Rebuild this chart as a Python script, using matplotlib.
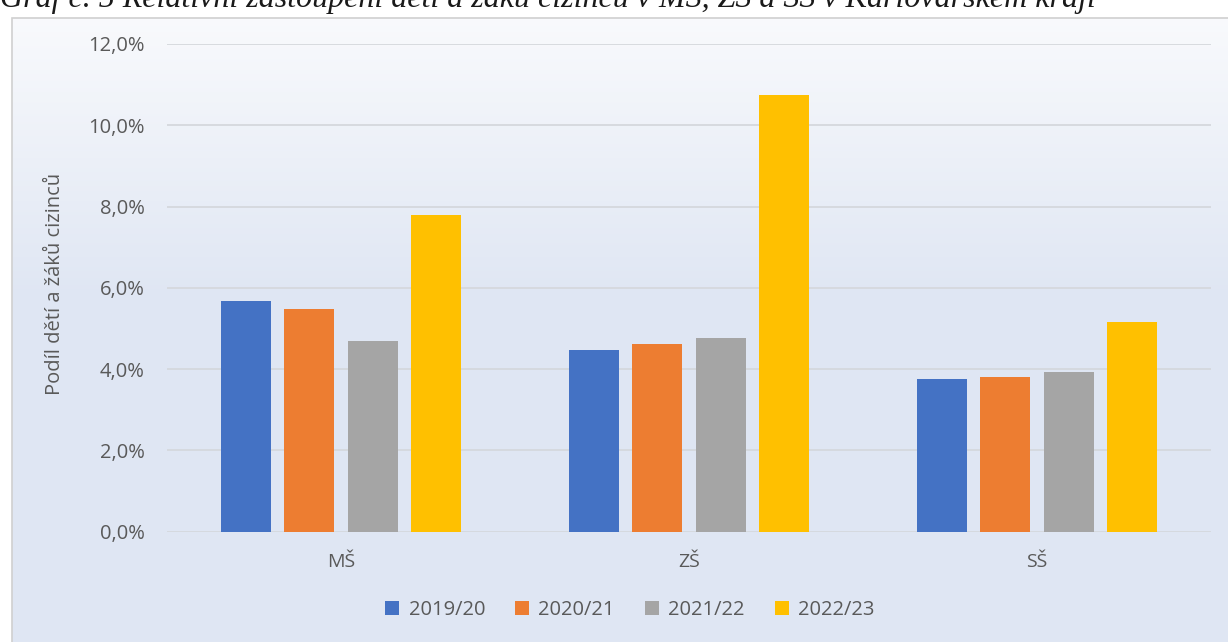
import numpy as np
import matplotlib
matplotlib.use("Agg")
import matplotlib.pyplot as plt
from matplotlib.patches import Rectangle
from matplotlib.ticker import FuncFormatter

categories = ["MŠ", "ZŠ", "SŠ"]
series = ["2019/20", "2020/21", "2021/22", "2022/23"]
values = {
    "2019/20": [5.68, 4.48, 3.76],
    "2020/21": [5.48, 4.63, 3.81],
    "2021/22": [4.70, 4.76, 3.92],
    "2022/23": [7.79, 10.75, 5.15],
}
colors = ["#4472c4", "#ed7d31", "#a5a5a5", "#ffc000"]
yticks = [0, 2, 4, 6, 8, 10, 12]
ylabel = "Podíl dětí a žáků cizinců"
title = "Graf č. 5 Relativní zastoupení dětí a žáků cizinců v MŠ, ZŠ a SŠ v Karlovarském kraji"

W, H = 1228, 642
fig = plt.figure(figsize=(W / 100, H / 100), dpi=100)
fig.patch.set_facecolor("white")

# background gradient panel
bg = fig.add_axes([12 / W, 0, 1 - 12 / W, 1 - 18 / H], zorder=0)
bg.set_axis_off()
n = 300
t = np.linspace(0, 1, n)
top = np.array([0.975, 0.98, 0.99])
bot = np.array([0.875, 0.902, 0.953])
mix = np.clip(t / 0.45, 0, 1)[:, None]
grad = top * (1 - mix) + bot * mix
bg.imshow(grad[:, None, :], aspect="auto", extent=[0, 1, 0, 1], origin="upper")
bg.set_xlim(0, 1)
bg.set_ylim(0, 1)
fig.patches.append(Rectangle((12 / W, -0.01), 1.0, 1 - 18 / H + 0.01, transform=fig.transFigure,
                             fill=False, edgecolor="#d0d0d0", linewidth=1.2, zorder=1))

ax = fig.add_axes([167 / W, 110.3 / H, (1211 - 167) / W, (531.7 - 44) / H], zorder=2)
ax.patch.set_alpha(0)
x = np.arange(len(categories))
bw = 50 / 348
step = 63.3 / 348
for i, s in enumerate(series):
    ax.bar(x + (i - 1.5) * step, values[s], width=bw, color=colors[i], label=s, zorder=3)

ax.set_xlim(-0.5, 2.5)
ax.set_ylim(0, 12)
ax.set_yticks(yticks)
ax.yaxis.set_major_formatter(FuncFormatter(lambda v, p: f"{v:.1f}".replace(".", ",") + "%"))
ax.set_xticks(x)
ax.set_xticklabels(categories)
ax.grid(axis="y", color="#d5d8dd", linewidth=1.3, zorder=0)
for sp in ax.spines.values():
    sp.set_visible(False)
ax.tick_params(axis="y", length=0, labelsize=14.5, labelcolor="#595959", pad=16)
ax.tick_params(axis="x", length=0, labelsize=14, labelcolor="#595959", pad=15)
for lab in ax.get_xticklabels() + ax.get_yticklabels():
    lab.set_family("Open Sans")
ax.set_ylabel(ylabel, fontsize=14.5, color="#595959", family="Open Sans")
ax.yaxis.set_label_coords(-(167 - 65) / 1044, (531.7 - 284) / 487.7)

leg = fig.legend(loc="center", bbox_to_anchor=(630 / W, 1 - 610 / H), ncol=4, frameon=False,
                 prop={"family": "Open Sans", "size": 14.5}, handlelength=0.7, handleheight=0.7,
                 handletextpad=0.45, columnspacing=1.5)
for txt in leg.get_texts():
    txt.set_color("#595959")

fig.text(0.0, 1 - 7 / H, title, ha="left", va="baseline", fontsize=23, style="italic",
         family="Liberation Serif", color="#1a1a1a")

fig.savefig("out.png", dpi=100)
